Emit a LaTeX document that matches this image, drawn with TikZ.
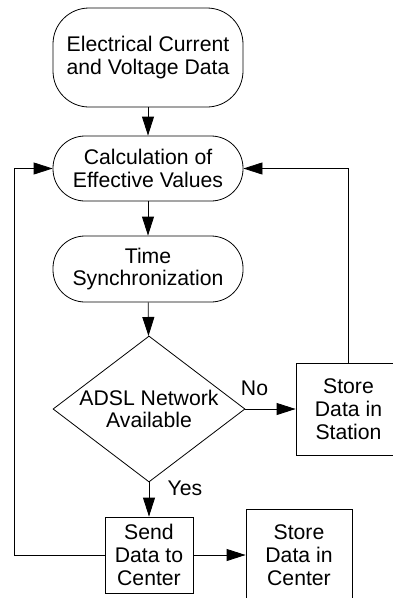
\documentclass[tikz,border=0pt]{standalone}
\usepackage{fontspec}
\setmainfont{Liberation Sans}
\usetikzlibrary{shapes.geometric,arrows.meta}
\begin{document}
\begin{tikzpicture}[x=1pt,y=-1pt,
  every node/.style={font=\fontsize{21.2}{22.8}\selectfont, align=center, inner sep=0pt},
  term/.style={draw, line width=0.8pt, rectangle, rounded corners=32pt, minimum width=190pt},
  boxnode/.style={draw, line width=0.8pt, rectangle, minimum height=92pt},
  decis/.style={draw, line width=0.8pt, diamond, aspect=1.315, minimum width=192pt, minimum height=146pt},
  arr/.style={line width=0.8pt, -{Triangle[length=19pt,width=12pt]}},
  ln/.style={line width=0.8pt}]
\useasboundingbox (0,0) rectangle (393,598);
\clip (0,0) rectangle (393,598);
\node[term, rounded corners=36pt, minimum height=99pt] (src) at (148,57.5) {Electrical Current\\and Voltage Data};
\node[term, minimum height=65pt] (calc) at (148,168.5) {Calculation of\\Effective Values};
\node[term, minimum height=66pt] (sync) at (148,269) {Time\\Synchronization};
\node[decis] (dec) at (149,409) {ADSL Network\\Available};
\node[boxnode, minimum width=105pt] (stst) at (348.5,409) {Store\\Data in\\Station};
\node[boxnode, minimum width=88pt, minimum height=76pt] (send) at (149,555) {Send\\Data to\\Center};
\node[boxnode, minimum width=106pt] (stce) at (299,555) {Store\\Data in\\Center};
\node (no) at (254.5,388) {No};
\node (yes) at (185,488) {Yes};
\coordinate (lx) at (14,555);
\draw[arr] (src) -- (calc);
\draw[arr] (calc) -- (sync);
\draw[arr] (sync) -- (dec);
\draw[arr] (dec.east) -- (stst.west);
\draw[arr] (dec.south) -- (send.north);
\draw[arr] (send.east) -- (stce.west);
\draw[arr] (stst.north) |- (calc.east);
\draw[arr] (send.west) -- (lx) |- (calc.west);
\end{tikzpicture}
\end{document}
